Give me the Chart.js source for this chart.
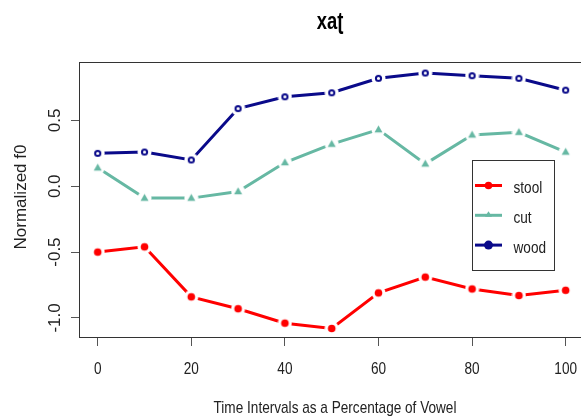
<!DOCTYPE html>
<html>
<head>
<meta charset="utf-8">
<script src="https://cdn.jsdelivr.net/npm/chart.js@4"></script>
<style>
  html, body { margin: 0; padding: 0; background: #fff; overflow: hidden; }
  canvas { display: block; }
</style>
</head>
<body>
<canvas id="f0Chart" width="590" height="418"></canvas>
<script>
// time points (% of vowel)
const timePoints = [0, 10, 20, 30, 40, 50, 60, 70, 80, 90, 100];
const xTicks = [0, 20, 40, 60, 80, 100];
const yTicks = [-1.0, -0.5, 0.0, 0.5];

// normalized f0 per word
const stool = [-0.50, -0.46, -0.84, -0.93, -1.04, -1.08, -0.81, -0.69, -0.78, -0.83, -0.79];
const cut = [0.14, -0.09, -0.09, -0.04, 0.18, 0.32, 0.43, 0.17, 0.39, 0.41, 0.26];
const wood = [0.25, 0.26, 0.20, 0.59, 0.68, 0.71, 0.82, 0.86, 0.84, 0.82, 0.73];

const FONT = '"Liberation Sans", Arial, sans-serif';
const RED = "#ff0000", TEAL = "#66b8a3", NAVY = "#0a0a8a";
const SQUEEZE = 0.8; // horizontal text squeeze

// marker images with a white halo so lines stop short of the points (like type="b")
function marker(kind, color) {
  const c = document.createElement("canvas");
  c.width = 15; c.height = 15;
  const g = c.getContext("2d");
  g.fillStyle = "#fff";
  g.beginPath(); g.arc(7.5, 7.5, 7, 0, Math.PI * 2); g.fill();
  g.fillStyle = color; g.strokeStyle = color;
  if (kind === "dot") {
    g.beginPath(); g.arc(7.5, 7.5, 3.8, 0, Math.PI * 2); g.fill();
  } else if (kind === "tri") {
    g.beginPath(); g.moveTo(7.5, 3.2); g.lineTo(11.5, 10.2); g.lineTo(3.5, 10.2); g.closePath(); g.fill();
  } else {
    g.lineWidth = 2;
    g.beginPath(); g.arc(7.5, 7.5, 2.6, 0, Math.PI * 2); g.stroke();
  }
  return c;
}

function series(label, data, color, kind) {
  return {
    label, data,
    borderColor: color,
    backgroundColor: color,
    borderWidth: 3,
    pointStyle: marker(kind, color),
    pointRadius: 7,
    tension: 0,
    clip: false
  };
}

// text squeezed across its glyphs; rotated text reads bottom to top
function text(ctx, str, x, y, font, align, rotated) {
  ctx.save();
  ctx.font = font;
  ctx.textAlign = align;
  ctx.textBaseline = "alphabetic";
  ctx.translate(x, y);
  if (rotated) {
    ctx.rotate(-Math.PI / 2);
  } else {
    ctx.scale(SQUEEZE, 1);
  }
  ctx.fillText(str, 0, 0);
  ctx.restore();
}

// tick labels, titles and the legend box
const decorations = {
  id: "decorations",
  afterDraw(chart) {
    const ctx = chart.ctx;
    const a = chart.chartArea;
    const xs = chart.scales.x, ys = chart.scales.y;
    ctx.save();

    // plot box
    ctx.strokeStyle = "#333";
    ctx.lineWidth = 1;
    ctx.strokeRect(Math.round(a.left) + 0.5, Math.round(a.top) + 0.5, a.right - a.left, a.bottom - a.top);

    ctx.fillStyle = "#222";
    const f17 = "17px " + FONT;
    xTicks.forEach(v => text(ctx, String(v), xs.getPixelForValue(v), 374, f17, "center"));
    yTicks.forEach(v => text(ctx, v.toFixed(1), 59.5, ys.getPixelForValue(v), f17, "center", true));

    // axis titles
    text(ctx, "Time Intervals as a Percentage of Vowel", 335, 413, f17, "center");
    text(ctx, "Normalized f0", 25.5, 197, f17, "center", true);

    // main title
    ctx.fillStyle = "#000";
    text(ctx, "xaʈ", 330, 29, "bold 23px " + FONT, "center");

    // legend
    const lx = 472.5, ly = 160.5, lw = 82, lh = 110;
    ctx.fillStyle = "#fff";
    ctx.fillRect(lx, ly, lw, lh);
    ctx.strokeStyle = "#333";
    ctx.lineWidth = 1;
    ctx.strokeRect(lx, ly, lw, lh);
    const items = [["stool", RED, "dot"], ["cut", TEAL, "tri"], ["wood", NAVY, "big"]];
    items.forEach(([name, color, kind], i) => {
      const y = 185.5 + i * 29.8;
      ctx.strokeStyle = color;
      ctx.fillStyle = color;
      ctx.lineWidth = 3;
      ctx.beginPath(); ctx.moveTo(475, y); ctx.lineTo(502, y); ctx.stroke();
      ctx.beginPath();
      if (kind === "tri") {
        ctx.moveTo(488.5, y - 4); ctx.lineTo(492, y + 1.5); ctx.lineTo(485, y + 1.5); ctx.closePath();
      } else {
        ctx.arc(488.5, y, kind === "big" ? 4.5 : 3.8, 0, Math.PI * 2);
      }
      ctx.fill();
      ctx.fillStyle = "#222";
      text(ctx, name, 513.5, y + 7.5, f17, "left");
    });
    ctx.restore();
  }
};

new Chart(document.getElementById("f0Chart"), {
  type: "line",
  data: {
    datasets: [
      series("stool", timePoints.map((x, i) => ({ x, y: stool[i] })), RED, "dot"),
      series("cut", timePoints.map((x, i) => ({ x, y: cut[i] })), TEAL, "tri"),
      series("wood", timePoints.map((x, i) => ({ x, y: wood[i] })), NAVY, "ring")
    ]
  },
  options: {
    responsive: false,
    animation: false,
    layout: { autoPadding: false, padding: { top: 62, right: 5.6, left: 0, bottom: 0 } },
    plugins: {
      legend: { display: false },
      title: { display: false },
      tooltip: { enabled: false }
    },
    scales: {
      x: {
        type: "linear",
        min: -4,
        max: 104,
        afterFit(scale) { scale.height = 81; },
        afterBuildTicks(scale) { scale.ticks = xTicks.map(v => ({ value: v })); },
        border: { display: false },
        grid: { drawOnChartArea: false, drawTicks: true, tickLength: 9, color: "#555" },
        ticks: { display: false }
      },
      y: {
        type: "linear",
        min: -1.145,
        max: 0.944,
        afterFit(scale) { scale.width = 79; },
        afterBuildTicks(scale) { scale.ticks = yTicks.map(v => ({ value: v })); },
        border: { display: false },
        grid: { drawOnChartArea: false, drawTicks: true, tickLength: 8, color: "#555" },
        ticks: { display: false }
      }
    }
  },
  plugins: [decorations]
});
</script>
</body>
</html>
